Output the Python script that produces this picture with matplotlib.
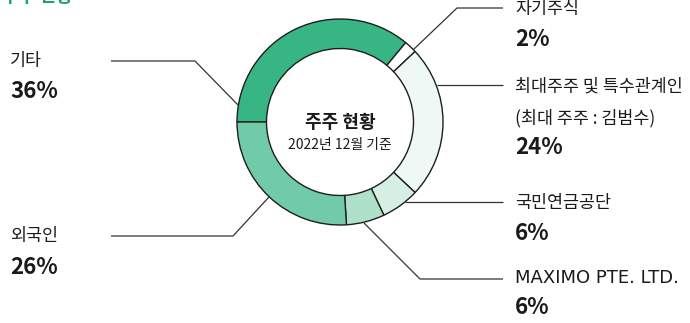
import matplotlib
matplotlib.use("Agg")
import matplotlib.pyplot as plt

plt.rcParams['font.family'] = ['Noto Sans CJK KR', 'DejaVu Sans']

# data (clockwise from 9 o'clock)
names = ['기타', '자기주식', '최대주주 및 특수관계인', '국민연금공단', 'MAXIMO PTE. LTD.', '외국인']
shares = [36, 2, 24, 6, 6, 26]
colors = ['#37b584', '#ffffff', '#eef8f4', '#d5efe3', '#aee0ca', '#72cba8']
pct_labels = ['36%', '2%', '24%', '6%', '6%', '26%']

W, H = 690, 323
fig = plt.figure(figsize=(6.9, 3.23), dpi=100)
ax = fig.add_axes([0, 0, 1, 1])

def Y(y):
    # pixel row (top-down) -> data y
    return H - y

cx, cy, R = 340, 122, 103
ax.pie(shares, colors=colors, startangle=180, counterclock=False,
       center=(cx, Y(cy)), radius=R, frame=True,
       wedgeprops=dict(width=29.5, edgecolor='#1e1e1e', linewidth=1.0))
ax.set_xlim(0, W)
ax.set_ylim(0, H)
ax.set_aspect('equal')
ax.axis('off')

# center text
ax.text(cx, Y(122), '주주 현황', ha='center', va='center', fontsize=13, fontweight='bold', color='#1a1a1a')
ax.text(cx, Y(145), '2022년 12월 기준', ha='center', va='center', fontsize=10, color='#1a1a1a')

# title at top-left, cut off by the top edge like in the source image
ax.text(2, Y(2), '주주 현황', ha='left', va='baseline', fontsize=13, fontweight='bold', color='#1e9e68')

# leader lines (pixel coords)
leaders = {
    '기타': [(111, 61), (195, 61), (238, 105)],
    '외국인': [(111, 236), (233, 236), (269, 197)],
    'MAXIMO PTE. LTD.': [(364, 223), (420, 279), (503, 279)],
    '국민연금공단': [(405, 202), (503, 202)],
    '최대주주 및 특수관계인': [(437, 85), (503, 85)],
    '자기주식': [(413, 50), (457, 8), (503, 8)],
}
for k, pts in leaders.items():
    xs = [p[0] for p in pts]
    ys = [Y(p[1]) for p in pts]
    ax.plot(xs, ys, color='#333333', lw=0.9, solid_capstyle='butt')

lab_fs = 12.5
pct_fs = 16
tc = '#1a1a1a'

# right side labels
ax.text(515, Y(9), names[1], ha='left', va='center', fontsize=lab_fs, color=tc)
ax.text(515, Y(40), pct_labels[1], ha='left', va='center', fontsize=pct_fs, fontweight='bold', color=tc)
ax.text(515, Y(87), names[2], ha='left', va='center', fontsize=lab_fs, color=tc)
ax.text(515, Y(118), '(최대 주주 : 김범수)', ha='left', va='center', fontsize=lab_fs, color=tc)
ax.text(515, Y(148), pct_labels[2], ha='left', va='center', fontsize=pct_fs, fontweight='bold', color=tc)
ax.text(515, Y(203), names[3], ha='left', va='center', fontsize=lab_fs, color=tc)
ax.text(515, Y(234), pct_labels[3], ha='left', va='center', fontsize=pct_fs, fontweight='bold', color=tc)
ax.text(515, Y(278), names[4], ha='left', va='center', fontsize=13, color=tc,
        family=['DejaVu Sans'])
ax.text(515, Y(308), pct_labels[4], ha='left', va='center', fontsize=pct_fs, fontweight='bold', color=tc)

# left side labels
ax.text(10, Y(61), names[0], ha='left', va='center', fontsize=lab_fs, color=tc)
ax.text(10, Y(92), pct_labels[0], ha='left', va='center', fontsize=pct_fs, fontweight='bold', color=tc)
ax.text(10, Y(236), names[5], ha='left', va='center', fontsize=lab_fs, color=tc)
ax.text(10, Y(268), pct_labels[5], ha='left', va='center', fontsize=pct_fs, fontweight='bold', color=tc)

fig.savefig('out.png', dpi=100, facecolor='white')
